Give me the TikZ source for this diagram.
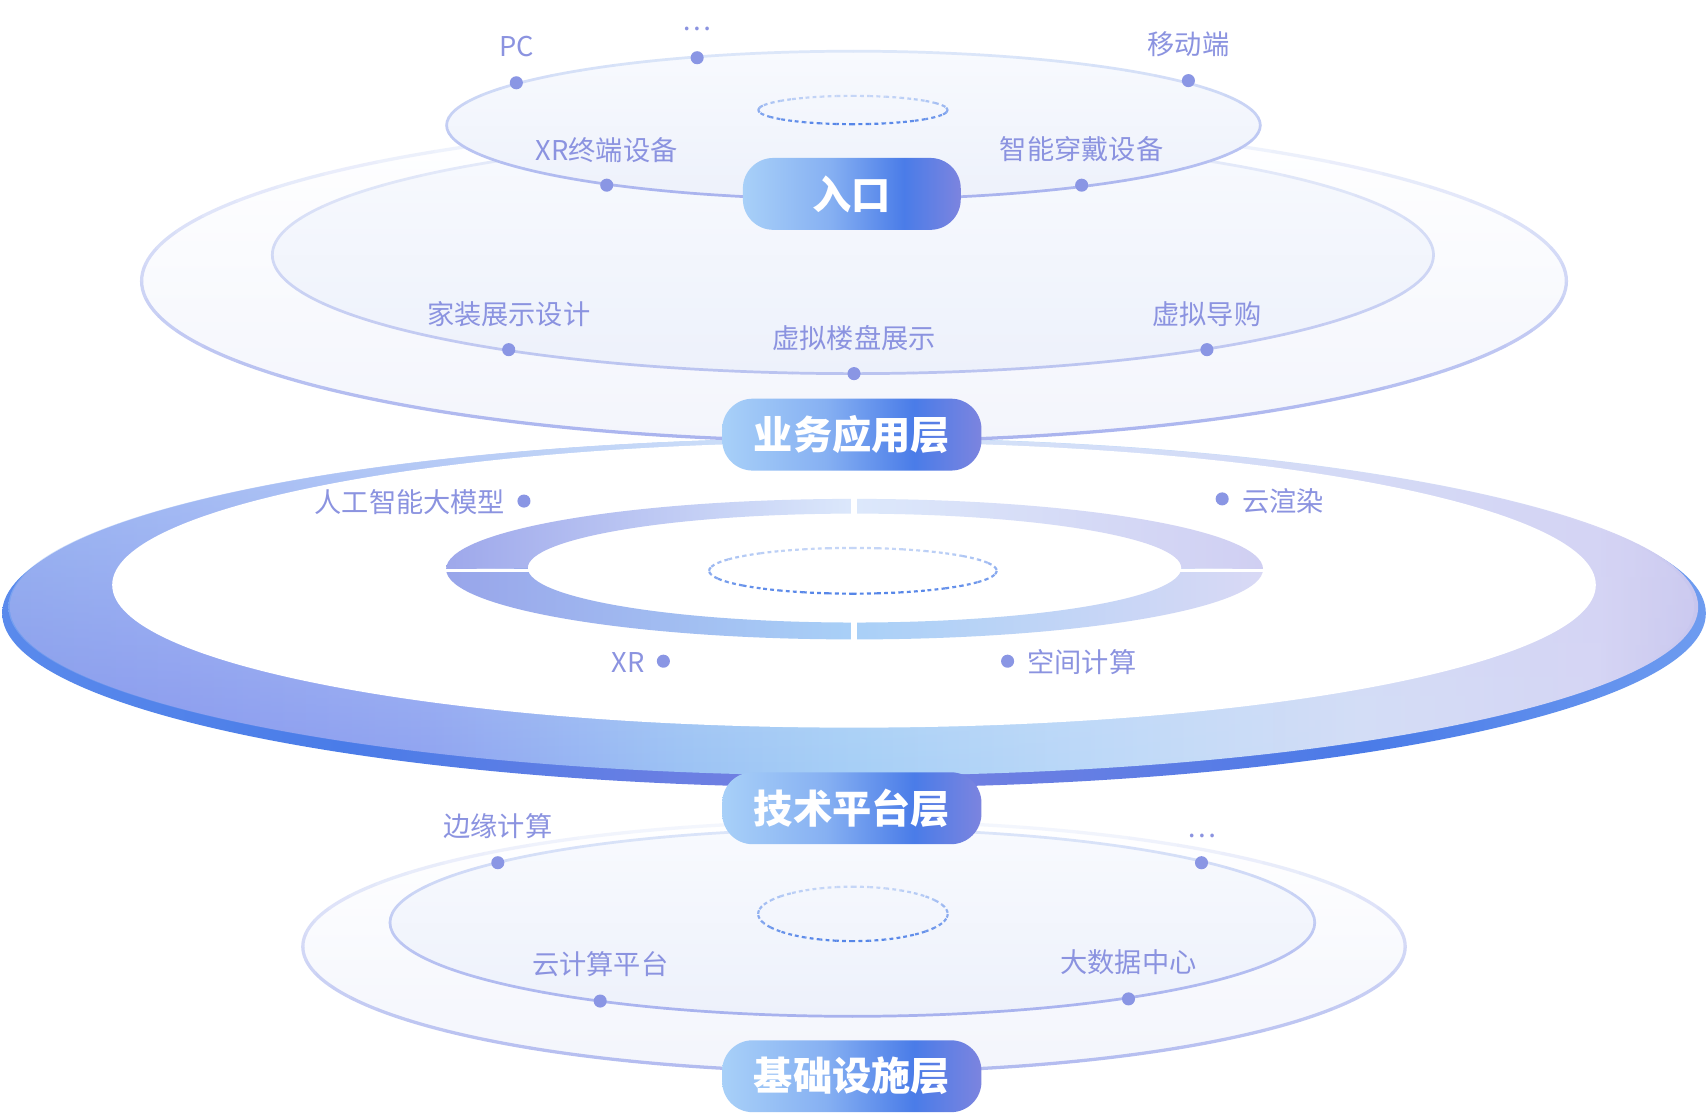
\documentclass[tikz,border=0pt]{standalone}
\usepackage{fontspec}
\setmainfont{Noto Sans CJK SC}
\usetikzlibrary{fadings}

\definecolor{labelc}{HTML}{8B93E0}
\definecolor{dotc}{HTML}{8A96E4}
\definecolor{pA}{HTML}{A8D0F8}
\definecolor{pB}{HTML}{86B0F2}
\definecolor{pC}{HTML}{4A7CE8}
\definecolor{pD}{HTML}{7C84DF}
\definecolor{fA}{HTML}{8596EA}
\definecolor{fB}{HTML}{8998EE}
\definecolor{fC}{HTML}{8FA3F1}
\definecolor{fD}{HTML}{9CC3F4}
\definecolor{fE}{HTML}{A6CFF6}
\definecolor{fF}{HTML}{BDD9F8}
\definecolor{fG}{HTML}{D3DEF7}
\definecolor{fH}{HTML}{D6D6F4}
\definecolor{fI}{HTML}{C7C5EE}
\definecolor{oA}{HTML}{A4C2F5}
\definecolor{oB}{HTML}{DCE7FA}
\definecolor{oC}{HTML}{D2D0F3}
\definecolor{rA}{HTML}{5A8AEC}
\definecolor{rB}{HTML}{4A7CE8}
\definecolor{rC}{HTML}{7A80E0}
\definecolor{rD}{HTML}{4A7BE8}
\definecolor{rE}{HTML}{6E9CF0}
\definecolor{tA}{HTML}{9EA8EB}
\definecolor{tB}{HTML}{DCE8FB}
\definecolor{tC}{HTML}{D0CFF2}
\definecolor{bA}{HTML}{98A5EA}
\definecolor{bB}{HTML}{A9D0F7}
\definecolor{bC}{HTML}{D9D9F5}
\definecolor{eTop}{HTML}{DCE7F9}
\definecolor{eBot}{HTML}{A8B2EE}
\definecolor{boTop}{HTML}{F4F7FD}
\definecolor{boBot}{HTML}{A9B3EE}
\definecolor{biTop}{HTML}{E8EEFA}
\definecolor{biBot}{HTML}{BAC3F0}
\definecolor{ioTop}{HTML}{F4F7FD}
\definecolor{ioBot}{HTML}{B1BAEF}
\definecolor{iiTop}{HTML}{DCE6F9}
\definecolor{iiBot}{HTML}{A7B1EE}
\definecolor{dTop}{HTML}{C5D6F7}
\definecolor{dBot}{HTML}{5585E8}
\definecolor{fillTop}{HTML}{F8FAFE}
\definecolor{fillBot}{HTML}{EDF1FB}
\definecolor{fillLt}{HTML}{F3F5FC}

\pgfdeclarehorizontalshading{pillshade}{100bp}{color(0bp)=(pA); color(25bp)=(pA); color(45bp)=(pB); color(62bp)=(pC); color(75bp)=(pD); color(100bp)=(pD)}
\pgfdeclarehorizontalshading{faceshade}{100bp}{color(0bp)=(fA); color(25bp)=(fA); color(30bp)=(fB); color(37.5bp)=(fC); color(45bp)=(fD); color(50bp)=(fE); color(57.5bp)=(fF); color(65bp)=(fG); color(72bp)=(fH); color(75bp)=(fI); color(100bp)=(fI)}
\pgfdeclarehorizontalshading{faceovl}{100bp}{color(0bp)=(oA); color(25bp)=(oA); color(50bp)=(oB); color(75bp)=(oC); color(100bp)=(oC)}
\pgfdeclarehorizontalshading{rimshade}{100bp}{color(0bp)=(rA); color(25bp)=(rA); color(35bp)=(rB); color(50bp)=(rC); color(65bp)=(rD); color(75bp)=(rE); color(100bp)=(rE)}
\pgfdeclarehorizontalshading{ringtop}{100bp}{color(0bp)=(tA); color(25bp)=(tA); color(50bp)=(tB); color(75bp)=(tC); color(100bp)=(tC)}
\pgfdeclarehorizontalshading{ringbot}{100bp}{color(0bp)=(bA); color(25bp)=(bA); color(50bp)=(bB); color(75bp)=(bC); color(100bp)=(bC)}
\tikzfading[name=techfade, top color=transparent!15, middle color=transparent!100, bottom color=transparent!100]

\newcommand\ellring[7]{%
  \foreach \aa in {0,6,...,354}{%
    \pgfmathtruncatemacro\pcent{50+50*sin(\aa+3)}%
    \draw[line width=#7, draw=#6!\pcent!#5, line cap=round] (#1,#2) ++(\aa:#3 and #4) arc[start angle=\aa, end angle=\aa+6, x radius=#3, y radius=#4];
  }}
\newcommand\dashring[4]{%
  \foreach \aa in {0,10,...,350}{%
    \pgfmathtruncatemacro\pcent{50+50*sin(\aa+5)}%
    \draw[line width=2, draw=dBot!\pcent!dTop, dash pattern=on 3.5pt off 3pt] (#1,#2) ++(\aa:#3 and #4) arc[start angle=\aa, end angle=\aa+10, x radius=#3, y radius=#4];
  }}

\tikzset{
  lbl/.style={font=\fontsize{25}{30}\selectfont, text=labelc, inner sep=0pt},
  dotn/.style={circle, fill=dotc, minimum size=12pt, inner sep=0pt},
  pill/.style={rounded corners=28pt, shading=pillshade, text=white, minimum height=66pt,
     font=\fontsize{36}{40}\selectfont\bfseries, inner sep=0pt},
}

\begin{document}
\begin{tikzpicture}[x=1pt,y=-1pt]
\useasboundingbox (0,0) rectangle (1568,1022);
\fill[white] (0,0) rectangle (1568,1022);

% ===== infrastructure layer =====
\shade[top color=white, bottom color=fillLt] (784,869) ellipse[x radius=506, y radius=115];
\ellring{784}{869}{506}{115}{ioTop}{ioBot}{3}
\shade[top color=fillTop, bottom color=fillBot] (782.5,847) ellipse[x radius=424.5, y radius=86];
\ellring{782.5}{847}{424.5}{86}{iiTop}{iiBot}{2.5}
\dashring{783}{839}{87}{25}
\node[dotn] (i1) at (457,792) {};
\node[dotn] (i2) at (1103,792) {};
\node[dotn] (i3) at (551,919) {};
\node[dotn] (i4) at (1036,917) {};
\node[lbl] (it1) at (457,758) {边缘计算};
\node[lbl] (it2) at (1103,767) {…};
\node[lbl] (it3) at (551,885) {云计算平台};
\node[lbl] (it4) at (1036,883) {大数据中心};
\node[pill, minimum width=238pt] (pinf) at (782,988) {基础设施层};

% ===== technology layer =====
\shade[shading=rimshade] (784,563) ellipse[x radius=782, y radius=160];
\shade[shading=faceshade] (784,557) ellipse[x radius=775, y radius=155];
\shade[shading=faceovl, path fading=techfade] (784,557) ellipse[x radius=775, y radius=155];
\fill[white] (784,537) ellipse[x radius=681, y radius=131];
% segmented ring
\shade[shading=ringtop] (409.5,522.5) arc[start angle=180, end angle=360, x radius=375, y radius=64.5]
  -- (1084.5,521.5) arc[start angle=0, end angle=-180, x radius=300, y radius=50] -- cycle;
\shade[shading=ringbot] (409.5,522.5) arc[start angle=180, end angle=0, x radius=375, y radius=64.5]
  -- (1084.5,521.5) arc[start angle=0, end angle=180, x radius=300, y radius=50] -- cycle;
\draw[white, line width=5] (784,452) -- (784,477);
\draw[white, line width=5] (784,567) -- (784,593);
\draw[white, line width=3] (404,523.5) -- (490,523.5);
\draw[white, line width=3] (1079,523.5) -- (1165,523.5);
\dashring{783}{524}{132}{21}
\node[dotn] (t1) at (481,460) {};
\node[dotn] (t2) at (1122,458) {};
\node[dotn] (t3) at (609,607) {};
\node[dotn] (t4) at (925,607) {};
\node[lbl, anchor=east] (tt1) at (464,461) {人工智能大模型};
\node[lbl, anchor=west] (tt2) at (1140,460) {云渲染};
\node[lbl, anchor=east] (tt3) at (592,608) {XR};
\node[lbl, anchor=west] (tt4) at (943,608) {空间计算};
\node[pill, minimum width=238pt] (ptech) at (782,742) {技术平台层};

% ===== business layer =====
\shade[top color=white, bottom color=fillLt] (784,258) ellipse[x radius=654, y radius=147];
\ellring{784}{258}{654}{147}{boTop}{boBot}{3}
\shade[top color=fillTop, bottom color=fillBot] (783,234) ellipse[x radius=533, y radius=109];
\ellring{783}{234}{533}{109}{biTop}{biBot}{2.5}
\node[dotn] (b1) at (467,321) {};
\node[dotn] (b2) at (784,343) {};
\node[dotn] (b3) at (1108,321) {};
\node[lbl] (bt1) at (467,288) {家装展示设计};
\node[lbl] (bt2) at (784,310) {虚拟楼盘展示};
\node[lbl] (bt3) at (1108,288) {虚拟导购};
\node[pill, minimum width=238pt] (pbus) at (782,399) {业务应用层};

% ===== entry layer =====
\shade[top color=fillTop, bottom color=fillBot] (783.5,115) ellipse[x radius=373.5, y radius=68];
\ellring{783.5}{115}{373.5}{68}{eTop}{eBot}{2.5}
\dashring{783}{101}{87}{13}
\node[dotn] (e1) at (474,76) {};
\node[dotn] (e2) at (640,53) {};
\node[dotn] (e3) at (1091,74) {};
\node[dotn] (e4) at (557,170) {};
\node[dotn] (e5) at (993,170) {};
\node[lbl] (et1) at (474,43) {PC};
\node[lbl] (et2) at (640,27) {…};
\node[lbl] (et3) at (1091,41) {移动端};
\node[lbl] (et4) at (557,138) {XR终端设备};
\node[lbl] (et5) at (993,137) {智能穿戴设备};
\node[pill, minimum width=200pt] (pent) at (782,178) {入口};
\end{tikzpicture}
\end{document}
